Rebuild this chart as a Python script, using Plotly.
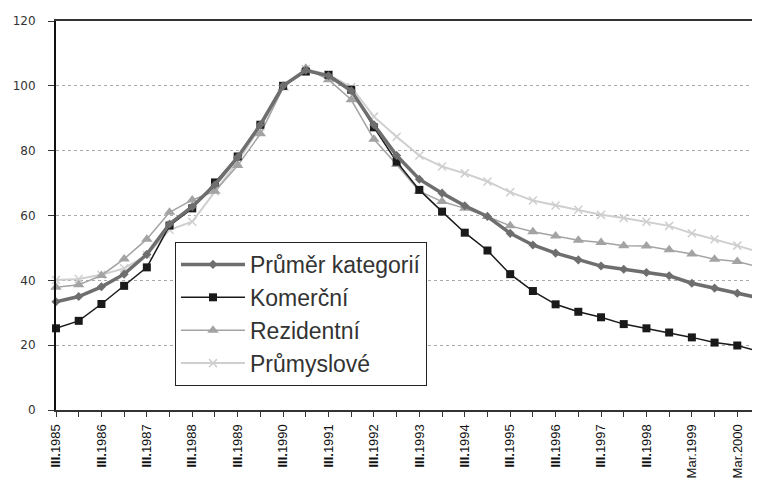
import plotly.graph_objects as go

categories = [
    "III.1985", "IX.1985", "III.1986", "IX.1986", "III.1987", "IX.1987",
    "III.1988", "IX.1988", "III.1989", "IX.1989", "III.1990", "IX.1990",
    "III.1991", "IX.1991", "III.1992", "IX.1992", "III.1993", "IX.1993",
    "III.1994", "IX.1994", "III.1995", "IX.1995", "III.1996", "IX.1996",
    "III.1997", "IX.1997", "III.1998", "IX.1998", "Mar.1999", "Sep.1999",
    "Mar.2000", "Sep.2000",
]
tick_labels = [
    "<b>III.</b>1985", "", "<b>III.</b>1986", "", "<b>III.</b>1987", "",
    "<b>III.</b>1988", "", "<b>III.</b>1989", "", "<b>III.</b>1990", "",
    "<b>III.</b>1991", "", "<b>III.</b>1992", "", "<b>III.</b>1993", "",
    "<b>III.</b>1994", "", "<b>III.</b>1995", "", "<b>III.</b>1996", "",
    "<b>III.</b>1997", "", "<b>III.</b>1998", "", "Mar.1999", "",
    "Mar.2000", "",
]

prumer = [33.4, 35.0, 38.0, 41.9, 48.0, 57.4, 62.7, 69.5, 78.0, 88.0, 100.0, 104.8,
          103.1, 98.5, 88.0, 78.5, 71.2, 66.9, 63.0, 59.7, 54.5, 50.9, 48.4, 46.3,
          44.4, 43.4, 42.4, 41.4, 39.1, 37.6, 36.0, 34.5]
komercni = [25.2, 27.5, 32.7, 38.3, 44.0, 56.9, 62.2, 70.2, 78.2, 88.0, 100.0, 104.4,
            103.4, 98.8, 87.2, 76.6, 67.9, 61.2, 54.7, 49.2, 41.9, 36.7, 32.6, 30.3,
            28.6, 26.5, 25.2, 23.9, 22.4, 20.8, 19.9, 18.0]
rezidentni = [37.9, 38.6, 41.5, 46.6, 52.7, 61.0, 64.8, 67.5, 75.4, 85.2, 99.4, 105.4,
              101.9, 95.7, 83.5, 75.7, 67.5, 64.3, 62.2, 59.7, 56.8, 55.0, 53.7, 52.4,
              51.7, 50.7, 50.6, 49.4, 48.1, 46.5, 45.8, 44.0]
prumyslove = [40.1, 40.4, 41.7, 43.7, 47.8, 55.6, 58.1, 67.4, 76.6, 87.4, 100.0, 105.2,
              103.4, 99.6, 90.5, 84.3, 78.5, 75.1, 73.0, 70.5, 67.2, 64.6, 63.1, 61.8,
              60.2, 59.2, 58.1, 56.8, 54.5, 52.7, 50.7, 48.6]

y_ticks = [0, 20, 40, 60, 80, 100, 120]

x = list(range(len(categories)))

fig = go.Figure()
fig.add_trace(go.Scatter(
    x=x, y=prumyslove, name="Průmyslové", mode="lines+markers",
    line=dict(color="#cfcfcf", width=2),
    marker=dict(symbol="x-thin", size=8, line=dict(color="#cfcfcf", width=1.5)),
    cliponaxis=False, customdata=categories,
))
fig.add_trace(go.Scatter(
    x=x, y=rezidentni, name="Rezidentní", mode="lines+markers",
    line=dict(color="#a3a3a3", width=1.5),
    marker=dict(symbol="triangle-up", size=10, color="#a3a3a3"),
    cliponaxis=False, customdata=categories,
))
fig.add_trace(go.Scatter(
    x=x, y=komercni, name="Komerční", mode="lines+markers",
    line=dict(color="#1a1a1a", width=1.5),
    marker=dict(symbol="square", size=8, color="#1a1a1a"),
    cliponaxis=False, customdata=categories,
))
fig.add_trace(go.Scatter(
    x=x, y=prumer, name="Průměr kategorií", mode="lines+markers",
    line=dict(color="#6e6e6e", width=3.5),
    marker=dict(symbol="diamond", size=7, color="#6e6e6e"),
    cliponaxis=False, customdata=categories,
))

fig.update_layout(
    width=760, height=481,
    margin=dict(l=48, r=8, t=13, b=79, autoexpand=False),
    paper_bgcolor="white", plot_bgcolor="white",
    font=dict(family="Liberation Sans, Arial, sans-serif", color="#333333"),
    showlegend=True,
    legend=dict(
        x=0.169, y=0.432, xanchor="left", yanchor="top",
        bgcolor="white", bordercolor="#222222", borderwidth=1,
        font=dict(size=23, color="#333333", family="Liberation Sans, Arial, sans-serif"),
        traceorder="reversed", itemwidth=64,
    ),
)
fig.update_xaxes(
    range=[0, 31], tickmode="array", tickvals=x, ticktext=tick_labels,
    tickangle=-90, ticks="outside", ticklen=5, tickcolor="#333333",
    showline=True, linecolor="#333333", linewidth=2, mirror=True,
    showgrid=False, zeroline=False, automargin=False, ticklabelstandoff=2,
    tickfont=dict(size=13, color="#111111", family="Liberation Sans Narrow, Arial Narrow, Liberation Sans, sans-serif"),
)
fig.update_yaxes(
    range=[0, 120], tickmode="array", tickvals=y_ticks,
    ticks="outside", ticklen=6, tickcolor="#333333",
    showline=True, linecolor="#111111", linewidth=2,
    showgrid=True, gridcolor="#aaaaaa", griddash="dot", gridwidth=1,
    zeroline=False, ticklabelstandoff=10, automargin=False,
    tickfont=dict(size=12, color="#333333", family="DejaVu Sans, sans-serif"),
)

fig.write_html("out.html")
